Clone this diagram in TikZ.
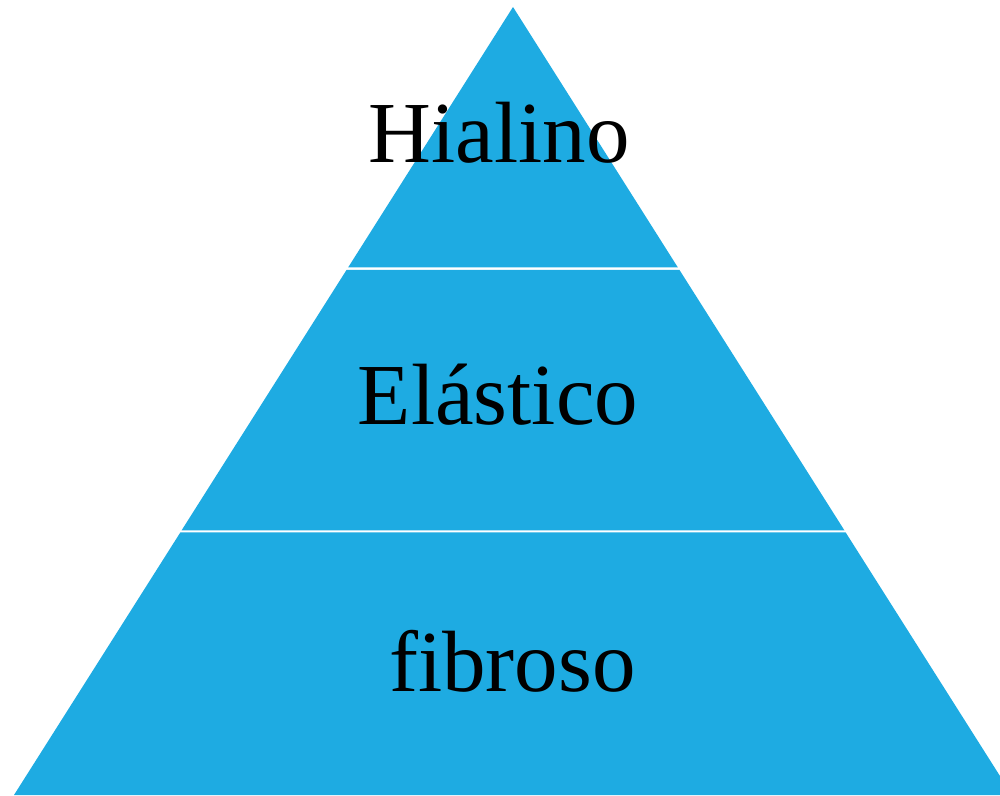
\documentclass[tikz,border=0pt]{standalone}
\usepackage{fontspec}
\setmainfont{Liberation Serif}
\usepackage{tikz}
\usetikzlibrary{positioning}
\definecolor{pyrblue}{RGB}{30,171,226}
\tikzset{
  level/.style={fill=pyrblue, draw=none},
  label/.style={anchor=base, inner sep=0pt, text=black, font=\fontsize{87}{90}\selectfont}
}

\begin{document}
\begin{tikzpicture}[x=1pt, y=1pt]
\useasboundingbox (0,0) rectangle (1000,795);
\clip (0,0) rectangle (1000,795);
\fill[level] (513,788) -- (677.9,527.5) -- (348.1,527.5) -- cycle;
\fill[level] (346.5,525) -- (679.5,525) -- (844.5,264.5) -- (181.5,264.5) -- cycle;
\fill[level] (180.3,262.5) -- (845.7,262.5) -- (1012,0) -- (14,0) -- cycle;
\node[label] (hialino) at (499,632) {Hialino};
\node[label] (elastico) at (498,370) {Elástico};
\node[label] (fibroso) at (512.5,104) {fibroso};
\end{tikzpicture}
\end{document}
